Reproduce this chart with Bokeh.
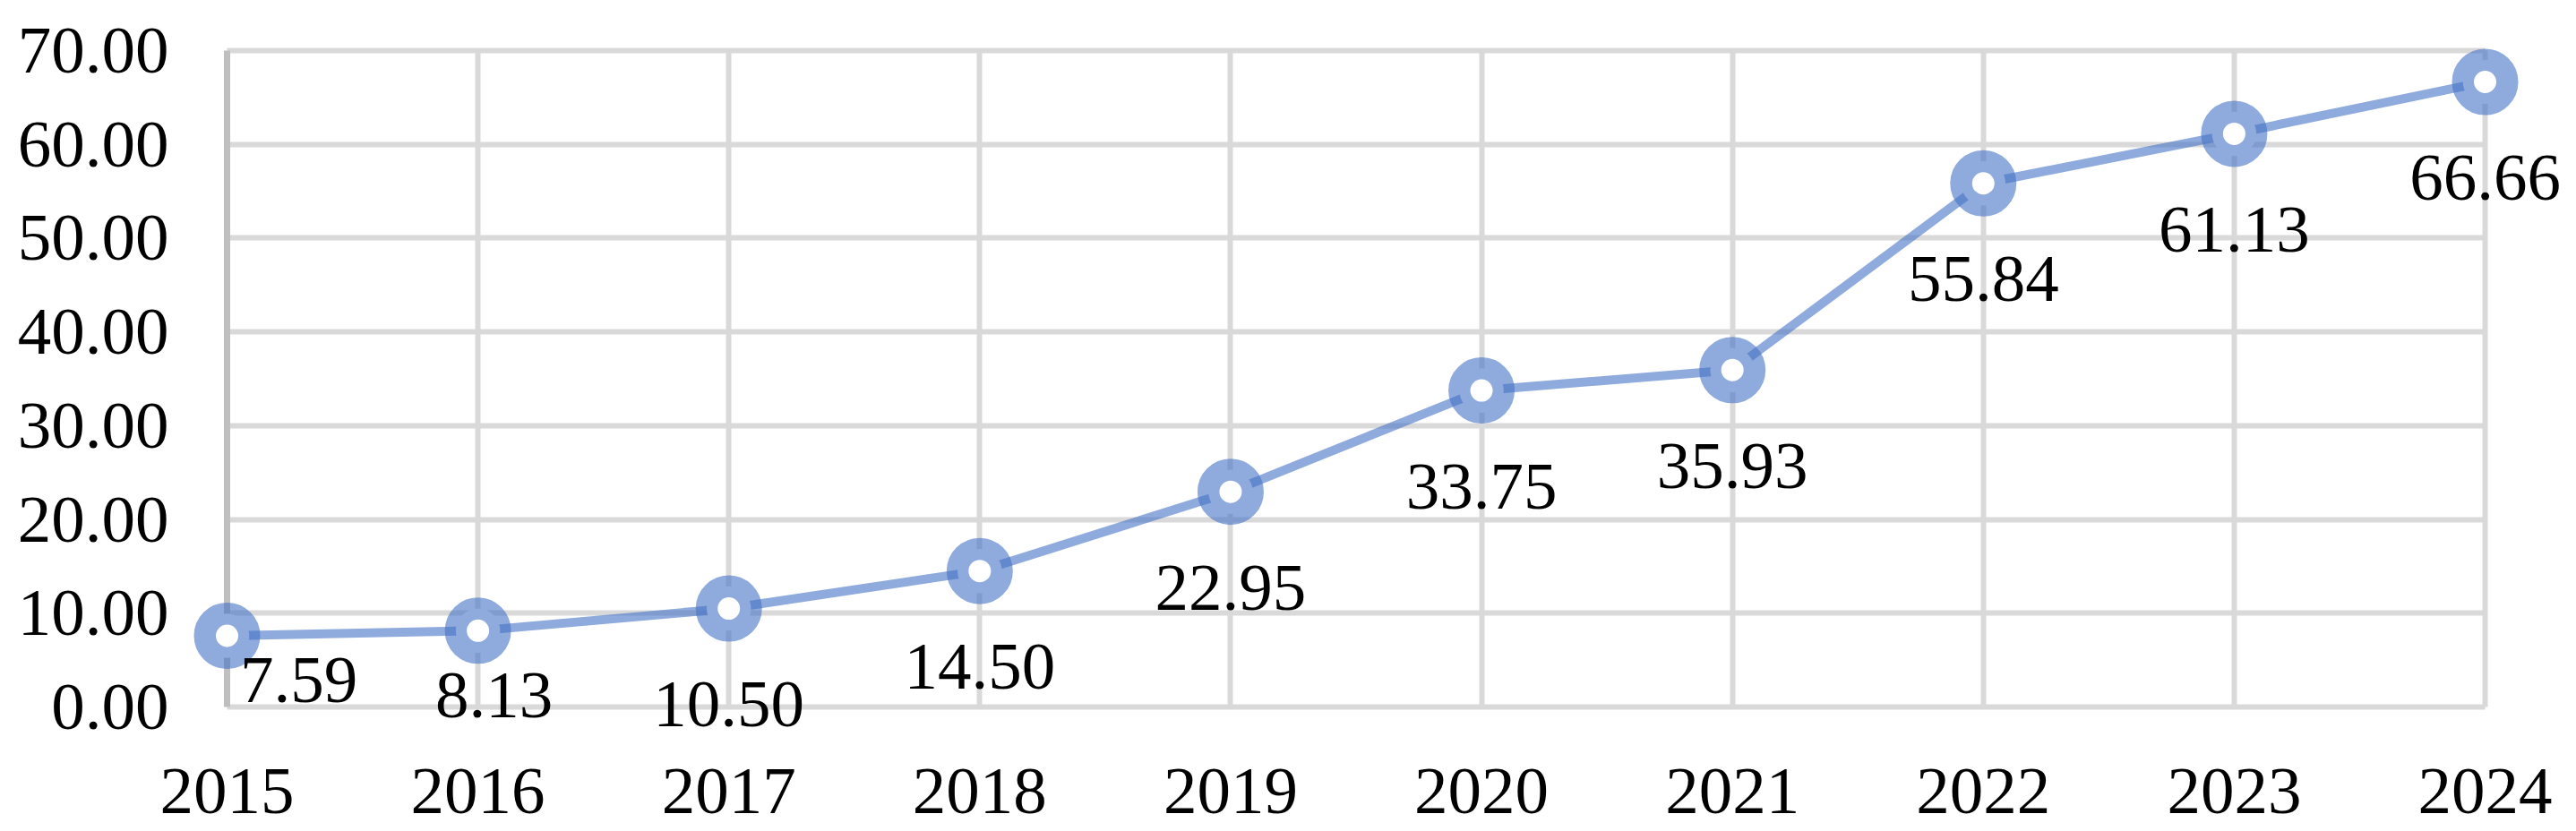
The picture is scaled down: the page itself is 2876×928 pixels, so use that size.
from bokeh.plotting import figure
from bokeh.models import Range1d, FixedTicker, NumeralTickFormatter, Grid, ColumnDataSource
from bokeh.core.properties import value
from bokeh.embed import file_html
from bokeh.resources import INLINE

# ---- data ----
years = [2015, 2016, 2017, 2018, 2019, 2020, 2021, 2022, 2023, 2024]
values = [7.59, 8.13, 10.50, 14.50, 22.95, 33.75, 35.93, 55.84, 61.13, 66.66]
y_ticks = [0, 10, 20, 30, 40, 50, 60, 70]

# ---- style ----
FONT = "Liberation Serif"
FS = "75px"
BLUE = "#4472C4"
GRID = "#d9d9d9"
AXIS = "#bfbfbf"

# manual nudges of data labels (screen px from the point: right, down)
label_dx = [80, 18, 0, 0, 0, 0, 0, 0, 0, 0]
label_dy = [49, 72, 107, 107, 107, 107, 107, 107, 107, 107]

# ---- layout (px) ----
W, H = 2876, 928
PLOT_L, PLOT_T = 253, 56            # top-left corner of the gridded area
PLOT_W, PLOT_H = 2521, 733          # size of the gridded area
PAD_R = W - PLOT_L - PLOT_W
PAD_B = H - PLOT_T - PLOT_H
xs = (years[-1] - years[0]) / PLOT_W
ys = (y_ticks[-1] - y_ticks[0]) / PLOT_H

src = ColumnDataSource(dict(
    x=years, y=values, label=[f"{v:.2f}" for v in values],
    dx=label_dx, dy=label_dy,
))

p = figure(
    width=W, height=H,
    min_border_left=0, min_border_top=0, min_border_right=0, min_border_bottom=0,
    x_range=Range1d(years[0] - PLOT_L * xs, years[-1] + PAD_R * xs),
    y_range=Range1d(y_ticks[0] - PAD_B * ys, y_ticks[-1] + PLOT_T * ys),
    output_backend="svg", toolbar_location=None,
)
p.outline_line_color = None
p.background_fill_color = "white"
p.border_fill_color = "white"

# grids limited to the data area
p.xgrid.ticker = FixedTicker(ticks=years[1:])
p.ygrid.ticker = FixedTicker(ticks=y_ticks)
for g in (p.xgrid, p.ygrid):
    g.grid_line_color = GRID
    g.grid_line_width = 6
p.xgrid.cross_bounds = (y_ticks[0], y_ticks[-1])
p.ygrid.cross_bounds = (years[0], years[-1])
p.add_layout(Grid(dimension=0, ticker=FixedTicker(ticks=[years[0]]),
                  grid_line_color=AXIS, grid_line_width=7,
                  cross_bounds=(y_ticks[0], y_ticks[-1])))

# axes, pinned to the data origin
p.xaxis.ticker = FixedTicker(ticks=years)
p.xaxis.major_label_overrides = {y: str(y) for y in years}
p.xaxis.fixed_location = y_ticks[0]
p.yaxis.ticker = FixedTicker(ticks=y_ticks)
p.yaxis.formatter = NumeralTickFormatter(format="0.00")
p.yaxis.fixed_location = years[0]
for ax in (p.xaxis, p.yaxis):
    ax.axis_line_color = None
    ax.major_tick_line_color = None
    ax.minor_tick_line_color = None
    ax.major_tick_out = 0
    ax.major_tick_in = 0
    ax.major_label_text_font = FONT
    ax.major_label_text_font_size = FS
    ax.major_label_text_color = "black"
p.yaxis.major_label_standoff = 65
p.xaxis.major_label_standoff = 69

# series
p.line("x", "y", source=src, line_color=BLUE, line_alpha=0.6, line_width=10)
p.scatter("x", "y", source=src, marker="circle", size=49.5,
          fill_color="white", fill_alpha=1.0,
          line_color=BLUE, line_alpha=0.6, line_width=24.5)

# data labels
p.text("x", "y", text="label", source=src, x_offset="dx", y_offset="dy",
       text_align="center", text_baseline="middle",
       text_font=value(FONT), text_font_size=FS, text_color="black")

open("out.html", "w").write(file_html(p, INLINE))
